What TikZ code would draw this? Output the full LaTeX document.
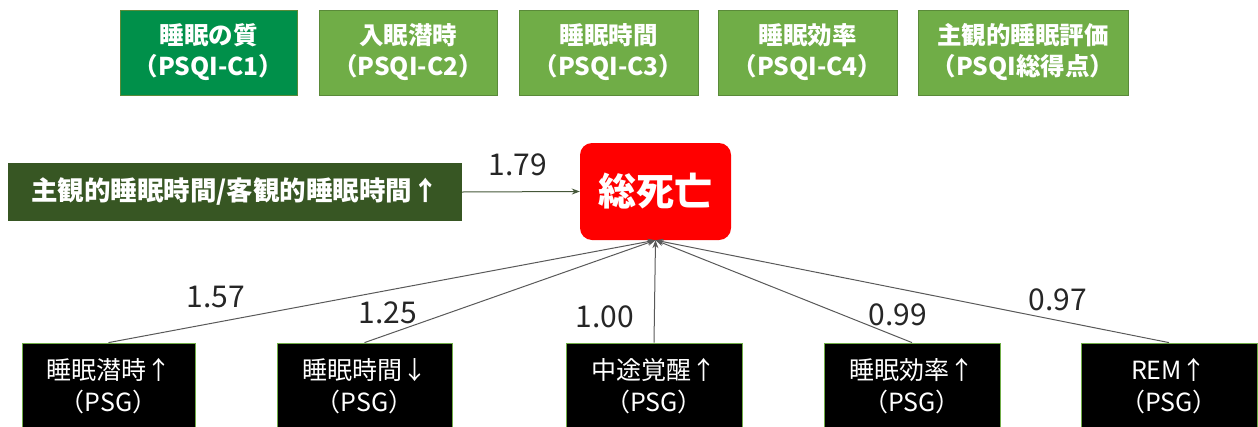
\documentclass[tikz,border=0pt]{standalone}
\usepackage{fontspec}
\setmainfont{Noto Sans CJK JP}
\usetikzlibrary{arrows.meta}
\definecolor{dgreen}{HTML}{00904A}
\definecolor{lgreen}{HTML}{70AD47}
\definecolor{olive}{HTML}{375623}
\definecolor{lineg}{HTML}{595959}
\tikzset{
  topbox/.style={fill=lgreen, draw=lgreen!80!black, line width=0.6pt, text=white, align=center,
    minimum height=85pt, inner sep=0pt, font=\fontsize{24.5}{31}\selectfont\bfseries},
  botbox/.style={fill=black, draw=lgreen, line width=0.8pt, text=white, align=center,
    minimum height=86pt, minimum width=175pt, inner sep=0pt, font=\fontsize{25}{32}\selectfont},
  numlab/.style={font=\fontsize{30}{30}\selectfont, text=black!85, inner sep=0pt},
  conn/.style={draw=lineg, line width=1pt, -{Stealth[length=8pt,width=6pt]}, shorten >=0pt}
}
\begin{document}
\begin{tikzpicture}[x=1pt,y=-1pt]
\useasboundingbox (0,0) rectangle (1258,426);
\node[topbox, fill=dgreen, minimum width=177pt] (t1) at (208.5,52.5) {睡眠の質\\（PSQI-C1）};
\node[topbox, minimum width=178pt] (t2) at (408,52.5) {入眠潜時\\（PSQI-C2）};
\node[topbox, minimum width=179pt] (t3) at (608.5,52.5) {睡眠時間\\（PSQI-C3）};
\node[topbox, minimum width=179pt] (t4) at (807.5,52.5) {睡眠効率\\（PSQI-C4）};
\node[topbox, minimum width=210pt] (t5) at (1023,52.5) {主観的睡眠評価\\（PSQI総得点）};

\node[fill=olive, text=white, minimum width=454pt, minimum height=58pt, inner sep=0pt,
  font=\fontsize{26.5}{26.5}\selectfont\bfseries] (subj) at (235,192) {主観的睡眠時間/客観的睡眠時間↑};
\node[fill=red, rounded corners=12pt, text=white, minimum width=151pt, minimum height=97pt, inner sep=0pt,
  font=\fontsize{38}{38}\selectfont\bfseries] (death) at (655.5,191.5) {総死亡};

\draw[conn, draw=olive!60!lineg] (subj.east) -- (death.west);
\node[numlab] (l0) at (518,165) {1.79};

\node[botbox, minimum width=173pt] (b1) at (108.5,386) {睡眠潜時↑\\（PSG）};
\node[botbox] (b2) at (364.5,386) {睡眠時間↓\\（PSG）};
\node[botbox, minimum width=176pt] (b3) at (654,386) {中途覚醒↑\\（PSG）};
\node[botbox, minimum width=176pt] (b4) at (912,386) {睡眠効率↑\\（PSG）};
\node[botbox, minimum width=176pt] (b5) at (1169,386) {REM↑\\（PSG）};

\draw[conn] (b1.north) -- (death.south);
\draw[conn] (b2.north) -- (death.south);
\draw[conn] (b3.north) -- (death.south);
\draw[conn] (b4.north) -- (death.south);
\draw[conn] (b5.north) -- (death.south);

\node[numlab] (l1) at (216,297) {1.57};
\node[numlab] (l2) at (388,313) {1.25};
\node[numlab] (l3) at (605,317) {1.00};
\node[numlab] (l4) at (898,315) {0.99};
\node[numlab] (l5) at (1058,300) {0.97};
\end{tikzpicture}
\end{document}
